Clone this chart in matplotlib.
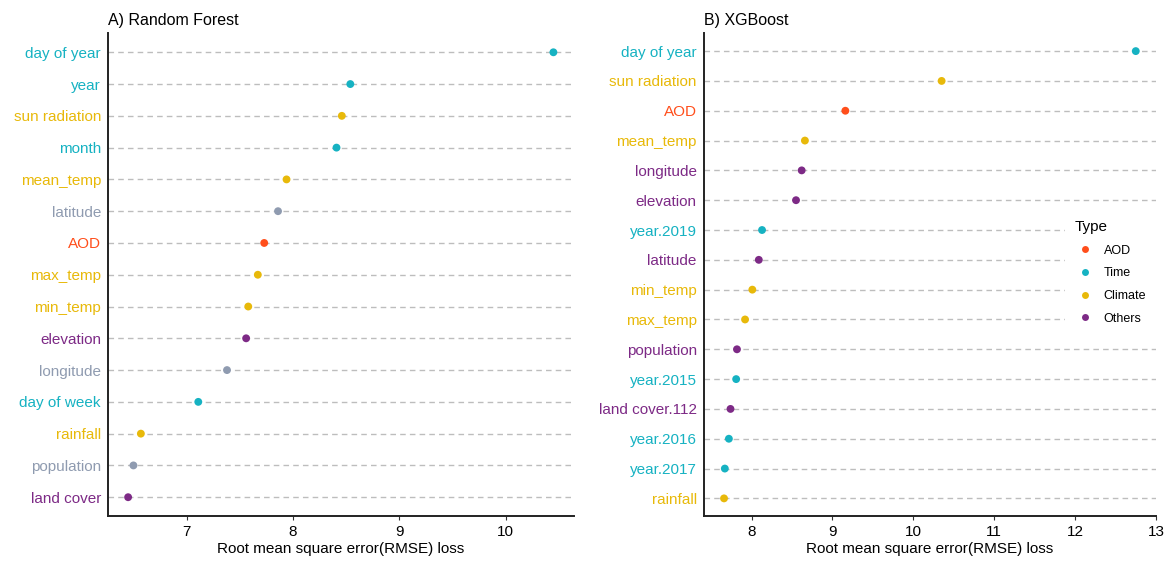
import matplotlib

matplotlib.use("Agg")
import matplotlib.pyplot as plt
from matplotlib.lines import Line2D

plt.rcParams["font.family"] = ["Liberation Sans", "DejaVu Sans"]

COLORS = {
    "AOD": "#FF4E1B",
    "Time": "#16B2C2",
    "Climate": "#E8B90A",
    "Others": "#7D2A86",
    "Geo": "#8F9BB0",
}

# A) Random Forest, top to bottom
rf_features = ["day of year", "year", "sun radiation", "month", "mean_temp",
               "latitude", "AOD", "max_temp", "min_temp", "elevation",
               "longitude", "day of week", "rainfall", "population", "land cover"]
rf_rmse = [10.45, 8.54, 8.46, 8.41, 7.94, 7.86, 7.73, 7.67, 7.58, 7.56,
           7.38, 7.11, 6.57, 6.50, 6.45]
rf_type = ["Time", "Time", "Climate", "Time", "Climate", "Geo", "AOD", "Climate",
           "Climate", "Others", "Geo", "Time", "Climate", "Geo", "Others"]

# B) XGBoost, top to bottom
xgb_features = ["day of year", "sun radiation", "AOD", "mean_temp", "longitude",
                "elevation", "year.2019", "latitude", "min_temp", "max_temp",
                "population", "year.2015", "land cover.112", "year.2016",
                "year.2017", "rainfall"]
xgb_rmse = [12.75, 10.35, 9.16, 8.66, 8.62, 8.55, 8.13, 8.09, 8.01, 7.92,
            7.82, 7.81, 7.74, 7.72, 7.67, 7.66]
xgb_type = ["Time", "Climate", "AOD", "Climate", "Others", "Others", "Time",
            "Others", "Climate", "Climate", "Others", "Time", "Others", "Time",
            "Time", "Climate"]

legend_types = ["AOD", "Time", "Climate", "Others"]


def dot_panel(ax, features, values, types, title, xlim, xticks):
    n = len(features)
    ypos = list(range(n - 1, -1, -1))
    for y in ypos:
        ax.axhline(y, color="#BDBDBD", linestyle=(0, (4, 3)), linewidth=1.0, zorder=1)
    ax.scatter(values, ypos, c=[COLORS[t] for t in types], s=32, zorder=3,
               edgecolors="none")
    ax.set_yticks(ypos)
    ax.set_yticklabels(features, fontsize=11)
    for lbl, t in zip(ax.get_yticklabels(), types):
        lbl.set_color(COLORS[t])
    ax.set_ylim(-0.6, n - 1 + 0.6)
    ax.set_xlim(*xlim)
    ax.set_xticks(xticks)
    ax.tick_params(axis="x", labelsize=11, length=3, width=0.8, color="#333333")
    ax.tick_params(axis="y", length=0, pad=5)
    ax.set_xlabel("Root mean square error(RMSE) loss", fontsize=11, labelpad=2)
    ax.set_title(title, loc="left", fontsize=11.5, pad=6)
    for side in ("top", "right"):
        ax.spines[side].set_visible(False)
    for side in ("left", "bottom"):
        ax.spines[side].set_linewidth(1.4)
        ax.spines[side].set_color("#222222")


fig = plt.figure(figsize=(11.73, 5.63), dpi=100)
ax1 = fig.add_axes([0.092, 0.083, 0.397, 0.858])
ax2 = fig.add_axes([0.600, 0.083, 0.3855, 0.858])

dot_panel(ax1, rf_features, rf_rmse, rf_type, "A) Random Forest",
          (6.26, 10.64), [7, 8, 9, 10])
dot_panel(ax2, xgb_features, xgb_rmse, xgb_type, "B) XGBoost",
          (7.41, 13.0), [8, 9, 10, 11, 12, 13])

handles = [Line2D([], [], marker="o", linestyle="none", markersize=5,
                  markerfacecolor=COLORS[t], markeredgecolor="none", label=t)
           for t in legend_types]
leg = ax2.legend(handles=handles, title="Type", loc="center left",
                 bbox_to_anchor=(0.785, 0.505), fontsize=9, title_fontsize=11,
                 frameon=True, facecolor="white", edgecolor="none",
                 framealpha=1.0, handletextpad=0.7, labelspacing=0.85,
                 borderpad=0.8, handlelength=1.6)
leg._legend_box.align = "left"
leg.set_zorder(5)

fig.savefig("out.png", dpi=100)
